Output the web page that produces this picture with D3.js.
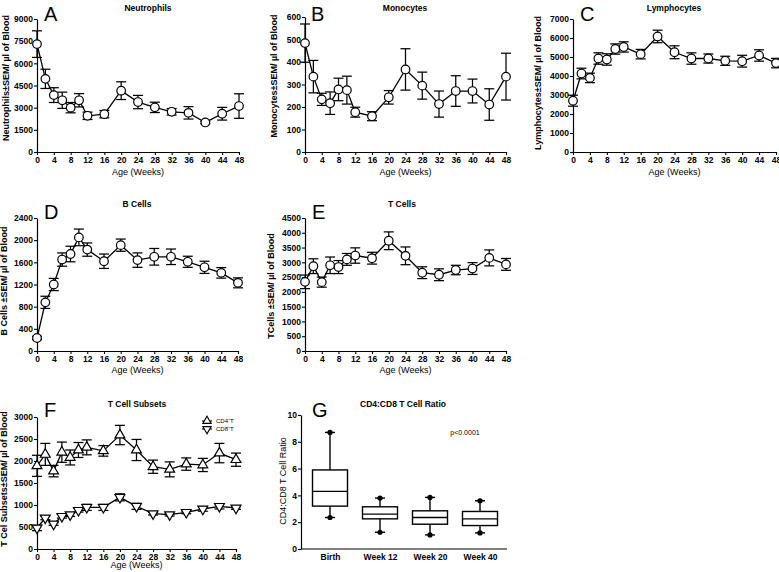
<!DOCTYPE html>
<html><head><meta charset="utf-8">
<script src="https://cdn.jsdelivr.net/npm/d3@7"></script>
<style>
body{margin:0;background:#fff}
svg{display:block}
text{font-family:"Liberation Sans",Arial,Helvetica,sans-serif;fill:#000}
</style>
</head><body>
<svg id="c" width="779" height="572"></svg>
<script>
// ---------- DATA ----------
const weeks = [0,2,4,6,8,10,12,16,20,24,28,32,36,40,44,48];
const xTickVals = [0,4,8,12,16,20,24,28,32,36,40,44,48];

const neutroMean = [7300,4950,3850,3500,3000,3500,2450,2560,4150,3380,3020,2720,2650,2000,2590,3110];
const neutroSem  = [900,650,500,550,350,450,250,250,600,450,350,220,420,80,430,830];
const neutroTicks = [0,1500,3000,4500,6000,7500,9000];

const monoMean = [484,335,234,217,278,275,177,159,243,367,295,213,271,271,211,335];
const monoSem  = [85,72,27,50,50,62,22,20,30,92,60,58,68,53,70,104];
const monoTicks = [0,100,200,300,400,500,600];

const lymphMean = [2700,4130,3900,4920,4870,5420,5530,5150,6080,5250,4920,4920,4800,4780,5080,4680];
const lymphSem  = [290,280,250,300,300,270,270,250,330,340,300,240,240,310,300,250];
const lymphTicks = [0,1000,2000,3000,4000,5000,6000,7000];

const bMean = [235,878,1200,1650,1750,2050,1830,1620,1910,1640,1700,1700,1610,1510,1410,1230];
const bSem  = [30,110,110,120,140,150,120,130,110,130,150,140,100,110,95,90];
const bTicks = [0,400,800,1200,1600,2000,2400];

const tMean = [2340,2870,2330,2900,2840,3100,3230,3140,3730,3220,2650,2580,2740,2790,3150,2930];
const tSem  = [230,250,170,280,220,200,260,200,300,300,200,200,160,200,270,200];
const tTicks = [0,500,1000,1500,2000,2500,3000,3500,4000,4500];

const cd4Mean = [1890,2150,1770,2200,2080,2250,2310,2230,2590,2250,1870,1810,1930,1910,2180,2030];
const cd4Sem  = [240,250,130,230,170,170,170,120,220,240,150,170,140,150,220,150];
const cd8Mean = [477,705,568,742,780,879,947,947,1174,970,803,780,833,909,970,932];
const cd8Sem  = [60,40,30,40,40,40,70,70,80,70,30,30,30,50,60,30];
const subsetTicks = [0,500,1000,1500,2000,2500,3000];

const ratioCats   = ["Birth","Week 12","Week 20","Week 40"];
const ratioMin    = [2.35,1.25,1.05,1.2];
const ratioQ1     = [3.2,2.25,1.85,1.75];
const ratioMedian = [4.3,2.6,2.35,2.25];
const ratioQ3     = [5.9,3.15,2.85,2.8];
const ratioMax    = [8.7,3.8,3.85,3.6];
const ratioTicks  = [0,2,4,6,8,10];

// ---------- DRAW ----------
const svg = d3.select("#c");

function axisStyle(g){
  g.selectAll("path.domain").attr("stroke","#000").attr("stroke-width",1.2);
  g.selectAll(".tick line").attr("stroke","#000").attr("stroke-width",1.1);
  g.selectAll(".tick text").style("font-size","8.5px").style("font-weight","bold")
    .style("font-family",'"Liberation Sans",Arial,sans-serif');
}

function panelText(L, title, letter, ytitle, ytBold){
  svg.append("text").attr("x",L.titleX).attr("y",L.titleY).attr("text-anchor","middle")
    .style("font-size","8.5px").style("font-weight","bold").text(title);
  svg.append("text").attr("x",L.letterX).attr("y",L.letterY)
    .style("font-size","20px").text(letter);
  svg.append("text").attr("transform",`translate(${L.ytX},${L.ytY}) rotate(-90)`)
    .attr("text-anchor","middle").style("font-size","9px")
    .style("font-weight",ytBold===false?"normal":"bold").text(ytitle);
}

function linePanel(L, title, letter, ytitle, ymax, yTicks, series){
  const x = d3.scaleLinear().domain([0,48]).range([L.x0, L.x1]);
  const y = d3.scaleLinear().domain([0,ymax]).range([L.y0, L.y1]);
  const gy = svg.append("g").attr("transform",`translate(${L.x0},0)`)
    .call(d3.axisLeft(y).tickValues(yTicks).tickSize(3).tickSizeOuter(0).tickPadding(1).tickFormat(d3.format("d")));
  axisStyle(gy);
  const gx = svg.append("g").attr("transform",`translate(0,${L.y0})`)
    .call(d3.axisBottom(x).tickValues(xTickVals).tickSize(3).tickSizeOuter(0).tickPadding(1.5));
  axisStyle(gx);
  svg.append("text").attr("x",(L.x0+L.x1)/2).attr("y",L.y0+L.agePad).attr("text-anchor","middle")
    .style("font-size","9px").text("Age (Weeks)");
  panelText(L, title, letter, ytitle);

  series.forEach(s=>{
    const pts = weeks.map((w,i)=>({w, m:s.mean[i], e:s.sem[i]}));
    svg.append("path").datum(pts)
      .attr("d", d3.line().x(d=>x(d.w)).y(d=>y(d.m)))
      .attr("fill","none").attr("stroke","#000").attr("stroke-width",1.3);
    const eb = svg.append("g").attr("stroke","#000").attr("stroke-width",1.25);
    pts.forEach(d=>{
      const top = y(d.m+d.e), bot = y(Math.max(0,d.m-d.e)), cx = x(d.w);
      eb.append("line").attr("x1",cx).attr("x2",cx).attr("y1",top).attr("y2",bot);
      eb.append("line").attr("x1",cx-5).attr("x2",cx+5).attr("y1",top).attr("y2",top);
      eb.append("line").attr("x1",cx-5).attr("x2",cx+5).attr("y1",bot).attr("y2",bot);
    });
    const mk = svg.append("g");
    pts.forEach(d=>{
      const cx = x(d.w), cy = y(d.m);
      if(s.marker==="circle"){
        mk.append("circle").attr("cx",cx).attr("cy",cy).attr("r",4.3)
          .attr("fill","#fff").attr("stroke","#000").attr("stroke-width",1.2);
      } else {
        const t = d3.symbol().type(d3.symbolTriangle).size(42)();
        mk.append("path").attr("d",t)
          .attr("transform",`translate(${cx},${cy})${s.marker==="down"?" rotate(180)":""}`)
          .attr("fill","#fff").attr("stroke","#000").attr("stroke-width",1.2);
      }
    });
  });
  return {x,y};
}

const LA = {x0:37,x1:239,y0:152,y1:19,agePad:23,titleX:148,titleY:11,letterX:44,letterY:21,ytX:9,ytY:78};
const LB = {x0:305,x1:506,y0:152,y1:17,agePad:23,titleX:405,titleY:11,letterX:311,letterY:21,ytX:277,ytY:76};
const LC = {x0:573,x1:776,y0:152,y1:19,agePad:23,titleX:674,titleY:11,letterX:580,letterY:21,ytX:541,ytY:83};
const LD = {x0:37,x1:238,y0:351,y1:218,agePad:22,titleX:137,titleY:207,letterX:44,letterY:219,ytX:7,ytY:281};
const LE = {x0:305,x1:506,y0:351,y1:218,agePad:22,titleX:402,titleY:207,letterX:312,letterY:219,ytX:274,ytY:286};
const LF = {x0:37,x1:236,y0:549,y1:417,agePad:19,titleX:137,titleY:407,letterX:44,letterY:417,ytX:7,ytY:479};
const LG = {x0:301,x1:507,y0:549,y1:415,titleX:403,titleY:407,letterX:312,letterY:417,ytX:286,ytY:481};

linePanel(LA,"Neutrophils","A","Neutrophils±SEM/ µl of Blood",9000,neutroTicks,
  [{mean:neutroMean,sem:neutroSem,marker:"circle"}]);
linePanel(LB,"Monocytes","B","Monocytes±SEM/ µl of Blood",600,monoTicks,
  [{mean:monoMean,sem:monoSem,marker:"circle"}]);
linePanel(LC,"Lymphocytes","C","Lymphocytes±SEM/ µl of Blood",7000,lymphTicks,
  [{mean:lymphMean,sem:lymphSem,marker:"circle"}]);
linePanel(LD,"B Cells","D","B Cells ±SEM/ µl of Blood",2400,bTicks,
  [{mean:bMean,sem:bSem,marker:"circle"}]);
linePanel(LE,"T Cells","E","TCells ±SEM/ µl of Blood",4500,tTicks,
  [{mean:tMean,sem:tSem,marker:"circle"}]);
linePanel(LF,"T Cell Subsets","F","T Cel Subsets±SEM/ µl of Blood",3000,subsetTicks,
  [{mean:cd4Mean,sem:cd4Sem,marker:"up"},{mean:cd8Mean,sem:cd8Sem,marker:"down"}]);

// legend F
[["up","CD4⁺T",421],["down","CD8⁺T",429]].forEach(([m,lab,ly])=>{
  const t = d3.symbol().type(d3.symbolTriangle).size(30)();
  svg.append("line").attr("x1",202).attr("x2",212).attr("y1",ly).attr("y2",ly).attr("stroke","#000").attr("stroke-width",1.1);
  svg.append("path").attr("d",t).attr("transform",`translate(207,${ly})${m==="down"?" rotate(180)":""}`)
    .attr("fill","#fff").attr("stroke","#000").attr("stroke-width",1.1);
  svg.append("text").attr("x",216).attr("y",ly+2.2).style("font-size","6px").text(lab);
});

// panel G box plot
(function(){
  const L = LG;
  const x = d3.scalePoint().domain(ratioCats).range([305,505]).padding(0.5);
  const y = d3.scaleLinear().domain([0,10]).range([L.y0,L.y1]);
  const gy = svg.append("g").attr("transform",`translate(${L.x0},0)`)
    .call(d3.axisLeft(y).tickValues(ratioTicks).tickSize(3).tickSizeOuter(0).tickPadding(1));
  axisStyle(gy);
  const gx = svg.append("g").attr("transform",`translate(0,${L.y0})`)
    .call(d3.axisBottom(x).tickSize(0).tickPadding(5));
  gx.select("path.domain").attr("d",`M${L.x0},0H${L.x1}`);
  axisStyle(gx);
  panelText(L,"CD4:CD8 T Cell Ratio","G","CD4:CD8 T Cell Ratio",false);
  svg.append("text").attr("x",465).attr("y",435).attr("text-anchor","middle")
    .style("font-size","7px").text("p<0.0001");
  const bw = 35, cw = 10;
  ratioCats.forEach((c,i)=>{
    const cx = x(c);
    const g = svg.append("g").attr("stroke","#000").attr("stroke-width",1.4);
    g.append("line").attr("x1",cx).attr("x2",cx).attr("y1",y(ratioMax[i])).attr("y2",y(ratioQ3[i]));
    g.append("line").attr("x1",cx).attr("x2",cx).attr("y1",y(ratioQ1[i])).attr("y2",y(ratioMin[i]));
    g.append("line").attr("x1",cx-cw/2).attr("x2",cx+cw/2).attr("y1",y(ratioMax[i])).attr("y2",y(ratioMax[i]));
    g.append("line").attr("x1",cx-cw/2).attr("x2",cx+cw/2).attr("y1",y(ratioMin[i])).attr("y2",y(ratioMin[i]));
    g.append("rect").attr("x",cx-bw/2).attr("width",bw).attr("y",y(ratioQ3[i]))
      .attr("height",y(ratioQ1[i])-y(ratioQ3[i])).attr("fill","#fff");
    g.append("line").attr("x1",cx-bw/2).attr("x2",cx+bw/2).attr("y1",y(ratioMedian[i])).attr("y2",y(ratioMedian[i]));
    svg.append("circle").attr("cx",cx).attr("cy",y(ratioMax[i])).attr("r",2.6).attr("fill","#000");
    svg.append("circle").attr("cx",cx).attr("cy",y(ratioMin[i])).attr("r",2.6).attr("fill","#000");
  });
})();
</script>
</body></html>
